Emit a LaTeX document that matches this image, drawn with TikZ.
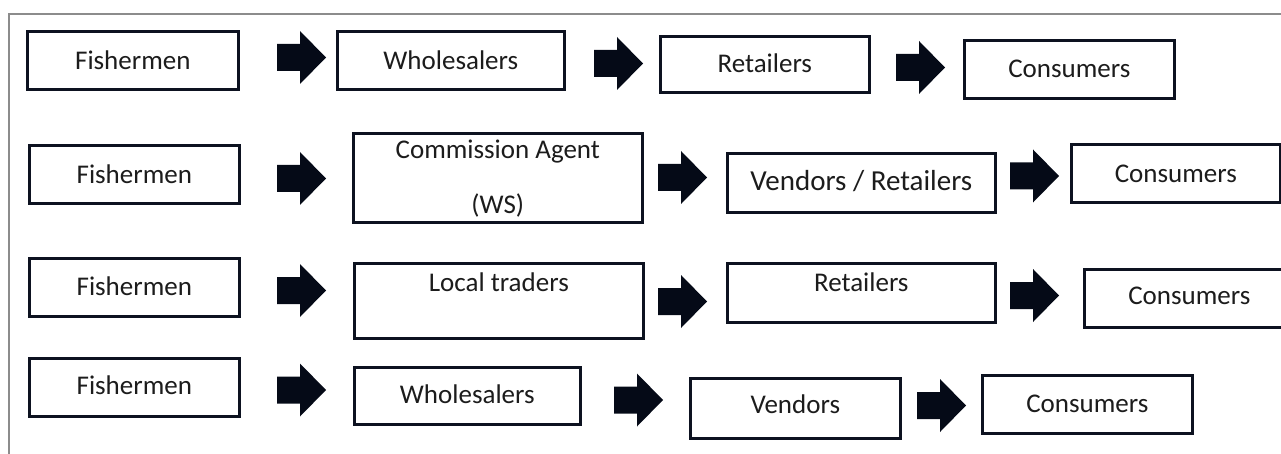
\documentclass[tikz,border=0pt]{standalone}
\usepackage{fontspec}
\setmainfont{Carlito}
\definecolor{boxline}{HTML}{0D1220}
\definecolor{arrowink}{HTML}{050A17}
\definecolor{ink}{HTML}{1C1C1C}
\definecolor{framegray}{HTML}{8C8C8C}

% \stagebox{name}{x1}{y1}{x2}{y2}{baseline}{text}
\newcommand\stagebox[7]{%
  \pgfmathsetmacro\stW{#4-#2}%
  \pgfmathsetmacro\stH{#6-#3}%
  \pgfmathsetmacro\stD{#5-#6}%
  \node[stage, minimum width=\stW pt, text height=\stH pt, text depth=\stD pt] (#1) at (#2,#3) {#7};}

\begin{document}
\begin{tikzpicture}[x=1pt,y=-1pt,
  stage/.style={draw=boxline, line width=2.6pt, fill=white, inner sep=0pt,
    anchor=north west, text=ink, font=\fontsize{27}{32}\selectfont},
  frameline/.style={draw=framegray, line width=1.1pt},
  blockarrow/.pic={\fill[arrowink] (0,-13.5) -- (23,-13.5) -- (23,-26.5) -- (49,0)
      -- (23,26.5) -- (23,13.5) -- (0,13.5) -- cycle;}]
\clip (0,0) rectangle (1281,454);

% outer frame (top and left sides)
\draw[frameline] (9,455) -- (9,14) -- (1282,14);

% chain 1
\stagebox{fa}{26}{30}{237}{88}{68}{Fishermen}
\stagebox{wa}{336}{30}{563}{88}{68}{Wholesalers}
\stagebox{ra}{659}{35}{868}{91}{71}{Retailers}
\stagebox{ca}{963}{39}{1173}{97}{76}{Consumers}
\pic at (277,57.5) {blockarrow};
\pic at (594,63.5) {blockarrow};
\pic at (896,67.5) {blockarrow};

% chain 2
\stagebox{fb}{28}{144}{238}{202}{182}{Fishermen}
\stagebox{agb}{352}{132}{641}{221}{157}{\begin{tabular}[t]{c}Commission Agent\\[23pt](WS)\end{tabular}}
\stagebox{vb}{726}{152}{994}{211}{189}{\fontsize{29}{34}\selectfont Vendors / Retailers}
\stagebox{cb}{1070}{143}{1279}{201}{181}{Consumers}
\pic at (277,178.5) {blockarrow};
\pic at (658,177.5) {blockarrow};
\pic at (1010,176) {blockarrow};

% chain 3
\stagebox{fc}{28}{257}{238}{315}{294}{Fishermen}
\stagebox{lc}{353}{262}{642}{337}{290}{Local traders}
\stagebox{rc}{726}{262}{994}{321}{290}{Retailers}
\stagebox{cc}{1083}{268}{1293}{326}{303}{Consumers}
\pic at (277,290.5) {blockarrow};
\pic at (658,301.5) {blockarrow};
\pic at (1010,295.5) {blockarrow};

% chain 4
\stagebox{fd}{28}{357}{238}{415}{393}{Fishermen}
\stagebox{wd}{353}{366}{579}{423}{402}{Wholesalers}
\stagebox{vd}{689}{377}{899}{437}{412}{Vendors}
\stagebox{cd}{981}{374}{1191}{432}{411}{Consumers}
\pic at (277,390) {blockarrow};
\pic at (614,400) {blockarrow};
\pic at (917,405.5) {blockarrow};
\end{tikzpicture}
\end{document}
